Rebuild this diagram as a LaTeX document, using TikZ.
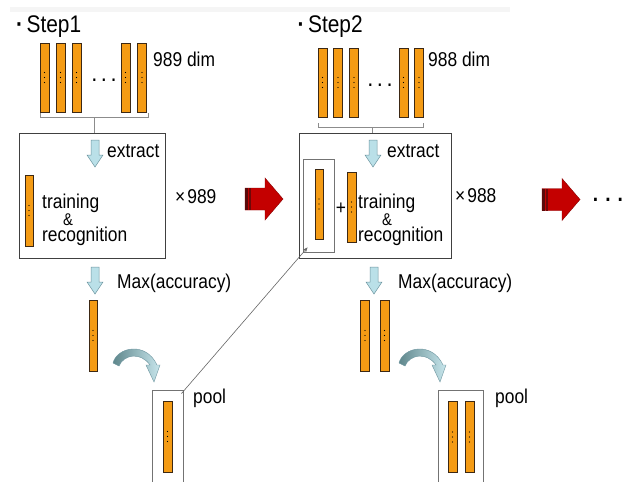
\documentclass[tikz,border=0pt]{standalone}
\usepackage{fontspec}
\setmainfont{Liberation Sans}[FakeStretch=0.87]
\usetikzlibrary{arrows.meta,calc}

\definecolor{barorange}{RGB}{244,155,20}
\definecolor{baredge}{RGB}{60,40,20}
\definecolor{paleblue}{RGB}{186,224,232}
\definecolor{paleedge}{RGB}{110,150,160}
\definecolor{tealdark}{RGB}{95,135,140}
\definecolor{arrowred}{RGB}{196,0,0}
\definecolor{arrowdark}{RGB}{90,10,10}

\tikzset{
  % orange feature column with three dots in its middle
  bar/.style={draw=baredge, line width=0.5pt, fill=barorange,
    minimum width=9pt, minimum height=#1, inner sep=0pt,
    path picture={\foreach \d in {-5,0,5}
      {\fill[black] ($(path picture bounding box.center)+(0,\d)$) circle[radius=0.65pt];}}},
  bar/.default=69pt,
  mainbox/.style={draw=black!75, line width=0.8pt, fill=none, inner sep=0pt},
  subbox/.style={draw=black!55, line width=0.8pt, fill=none, inner sep=0pt},
  lbl/.style={font=\fontsize{20}{22}\selectfont, inner sep=0pt, anchor=base west},
  amp/.style={font=\fontsize{17}{19}\selectfont, inner sep=0pt, anchor=base west},
  steptitle/.style={font=\fontsize{24}{26}\selectfont, inner sep=0pt, anchor=base west},
  dotrow/.style={font=\bfseries\fontsize{#1}{20}\selectfont, inner sep=0pt, anchor=base},
  bracket/.style={draw=black!45, line width=0.7pt},
  link/.style={draw=black!60, line width=0.6pt, -{Stealth[length=5pt,width=4pt]}},
  % pale blue block arrow pointing down, origin at the top of the shaft
  downarrow/.pic={
    \draw[fill=paleblue, draw=paleedge, line width=0.5pt]
      (-4,0) -- (4,0) -- (4,15) -- (8,15) -- (0,27) -- (-8,15) -- (-4,15) -- cycle;},
  % red block arrow pointing right, origin at the left middle of the shaft
  redarrow/.pic={
    \draw[fill=arrowred, draw=arrowred!70!black, line width=0.4pt]
      (0,-11) -- (20,-11) -- (20,-21) -- (38,0) -- (20,21) -- (20,11) -- (0,11) -- cycle;
    \fill[arrowdark] (0,-11) rectangle (2.5,11);
    \fill[arrowdark!80!arrowred] (4,-11) rectangle (5.5,11);},
  % curved shaded arrow bending down to the pool
  curvearrow/.pic={
    \shadedraw[left color=tealdark, right color=paleblue!80!white,
      draw=paleedge, line width=0.4pt]
      (0,0) .. controls (4,-16) and (33,-22) .. (44,2) -- (47,2) -- (41,19)
      -- (33,2) -- (37,2) .. controls (28,-11) and (11,-9) .. (6,3) -- cycle;}
}

\begin{document}
\begin{tikzpicture}[x=1pt,y=-1pt]
\clip (0,0) rectangle (630,482);
\fill[white] (0,0) rectangle (630,482);
\fill[black!4] (10,7) rectangle (510,12);

% ---------------- Step 1 ----------------
\node[steptitle] (t1) at (16,32.3) {\textbf{·}\hspace{3.5pt}Step1};

\node[bar] (a1) at (44.5,77.5) {};
\node[bar] (a2) at (60.5,77.5) {};
\node[bar] (a3) at (76.5,77.5) {};
\node[dotrow=17] (adots) at (104,81.5) {. . .};
\node[bar] (a4) at (125.5,77.5) {};
\node[bar] (a5) at (142,77.5) {};
\node[lbl] (adim) at (153,66.5) {989 dim};

\node[mainbox, minimum width=146pt, minimum height=125pt] (box1) at (92,195.5) {};
\draw[bracket] (40,113) -- (40,117) -- (148,117) -- (148,113);
\draw[bracket] (94,117) -- (94,133);

\pic at (95,140) {downarrow};
\node[lbl] (ext1) at (107,157) {extract};
\node[bar=71pt, minimum width=8pt] (b1) at (29,210.5) {};
\node[lbl] (tr1) at (42,208.5) {training};
\node[amp] (amp1) at (63,225.5) {\&};
\node[lbl] (rec1) at (42,241) {recognition};
\node[lbl] (x1) at (175,203) {×\hspace{2pt}989};

\pic at (245,199) {redarrow};

\pic at (95,267) {downarrow};
\node[lbl] (max1) at (117,288) {Max(accuracy)};
\node[bar=71pt, minimum width=8pt] (c1) at (93,335.5) {};
\pic at (113,363) {curvearrow};

\node[subbox, minimum width=31pt, minimum height=110pt] (pool1) at (167.5,445) {};
\node[bar=71pt] (p1) at (167.5,436.5) {};
\node[lbl] (pl1) at (193,403) {pool};

% ---------------- Step 2 ----------------
\node[steptitle] (t2) at (297.5,32.3) {\textbf{·}\hspace{3.5pt}Step2};

\node[bar] (f1) at (322.5,82.5) {};
\node[bar] (f2) at (338,82.5) {};
\node[bar] (f3) at (354,82.5) {};
\node[dotrow=17] (fdots) at (380,86) {. . .};
\node[bar] (f4) at (403.5,82.5) {};
\node[bar] (f5) at (419,82.5) {};
\node[lbl] (fdim) at (428,66.5) {988 dim};

\node[mainbox, minimum width=152pt, minimum height=125pt] (box2) at (375,195.5) {};
\draw[bracket] (318,123) -- (318,127) -- (423,127) -- (423,123);
\draw[bracket] (372,127) -- (372,133);

\pic at (373,140) {downarrow};
\node[lbl] (ext2) at (387,157) {extract};
\node[subbox, minimum width=31pt, minimum height=93pt] (inner) at (318.5,205.5) {};
\node[bar=70pt, minimum width=8pt] (d1) at (319,204) {};
\node[lbl, anchor=center] (plus) at (341,209) {+};
\node[bar=70pt] (d2) at (351.5,207) {};
\node[lbl] (tr2) at (358,208.5) {training};
\node[amp] (amp2) at (382,225.5) {\&};
\node[lbl] (rec2) at (358,241) {recognition};
\node[lbl] (x2) at (455,202) {×\hspace{2pt}988};

\pic at (542,199.5) {redarrow};
\node[dotrow=22] (more) at (608,201.5) {. . .};

\pic at (374,267) {downarrow};
\node[lbl] (max2) at (398,288) {Max(accuracy)};
\node[bar=71pt] (e1) at (365,335.5) {};
\node[bar=71pt] (e2) at (384.5,335.5) {};
\pic at (399,363) {curvearrow};

\node[subbox, minimum width=45pt, minimum height=110pt] (pool2) at (460.5,445) {};
\node[bar=71pt] (q1) at (452.5,437) {};
\node[bar=71pt] (q2) at (469.5,437) {};
\node[lbl] (pl2) at (495,403) {pool};

% pooled column carried over into the next step
\draw[link] ($(pool1.north east)+(-2,4)$) -- ($(inner.south west)+(5,-5)$);
\end{tikzpicture}
\end{document}
